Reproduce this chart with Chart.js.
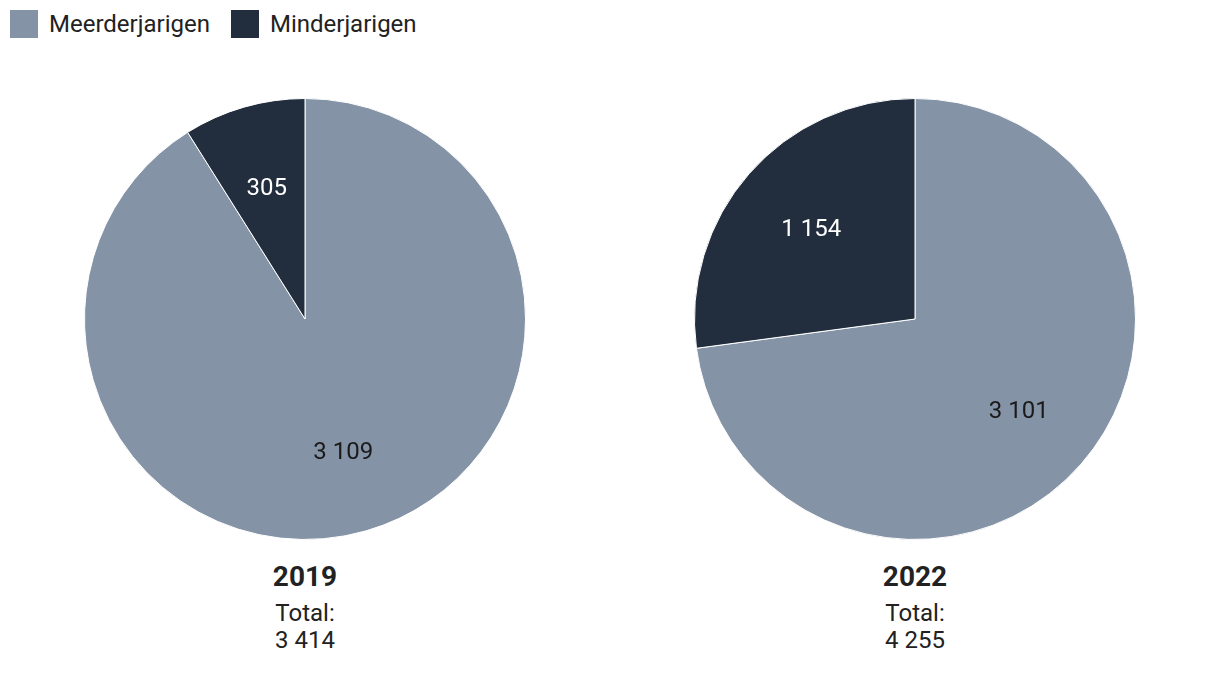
<!DOCTYPE html>
<html>
<head>
<meta charset="utf-8">
<script src="https://cdn.jsdelivr.net/npm/chart.js@4"></script>
<style>
  body { margin: 0; background: #fff; font-family: Roboto, sans-serif; color: #222; }
  #wrap { position: relative; width: 1220px; height: 686px; }
  .legend { position: absolute; top: 10px; left: 10px; display: flex; font-size: 24px; line-height: 28px; }
  .legend span.box { display: inline-block; width: 28px; height: 28px; margin-right: 11px; vertical-align: top; }
  .legend .item { margin-right: 21px; }
  .pie { position: absolute; top: 98px; width: 610px; height: 442px; }
  .cap { position: absolute; top: 558px; width: 610px; text-align: center; }
  .cap .yr { font-weight: bold; font-size: 28px; line-height: 38px; }
  .cap .tot { font-size: 24px; line-height: 27px; margin-top: 4px; }
</style>
</head>
<body>
<div id="wrap">
  <div class="legend" id="legend"></div>
  <div class="pie" style="left:0"><canvas id="c0"></canvas></div>
  <div class="pie" style="left:610px"><canvas id="c1"></canvas></div>
  <div class="cap" id="cap0" style="left:0"></div>
  <div class="cap" id="cap1" style="left:610px"></div>
</div>
<script>
// Data
const categories = ["Meerderjarigen", "Minderjarigen"];
const years = ["2019", "2022"];
const values2019 = [3109, 305];
const values2022 = [3101, 1154];
const colors = ["#8593a6", "#222e3e"];
const labelColors = ["#1a1a1a", "#ffffff"];

function fmt(n) {
    return String(n).replace(/\B(?=(\d{3})+(?!\d))/g, " ");
}

// legend
const legend = document.getElementById("legend");
categories.forEach((c, i) => {
    const d = document.createElement("div");
    d.className = "item";
    d.innerHTML = `<span class="box" style="background:${colors[i]}"></span>${c}`;
    legend.appendChild(d);
});

// slice labels
const sliceLabels = {
    id: "sliceLabels",
    afterDatasetsDraw(chart) {
        const ctx = chart.ctx;
        const meta = chart.getDatasetMeta(0);
        ctx.save();
        ctx.font = "24px Roboto";
        ctx.textAlign = "center";
        ctx.textBaseline = "middle";
        meta.data.forEach((arc, i) => {
            const mid = (arc.startAngle + arc.endAngle) / 2;
            const r = arc.outerRadius * 0.625;
            const x = arc.x + Math.cos(mid) * r;
            const y = arc.y + Math.sin(mid) * r;
            ctx.fillStyle = labelColors[i];
            ctx.fillText(fmt(chart.data.datasets[0].data[i]), x, y + 2);
        });
        ctx.restore();
    }
};

function makePie(id, values) {
    new Chart(document.getElementById(id), {
        type: "pie",
        data: {
            labels: categories,
            datasets: [{
                data: values,
                backgroundColor: colors,
                borderColor: "#ffffff",
                borderWidth: 1
            }]
        },
        options: {
            responsive: true,
            maintainAspectRatio: false,
            animation: false,
            layout: { padding: 0 },
            plugins: {
                legend: { display: false },
                tooltip: { enabled: false }
            }
        },
        plugins: [sliceLabels]
    });
}

makePie("c0", values2019);
makePie("c1", values2022);

[values2019, values2022].forEach((v, i) => {
    const total = v.reduce((a, b) => a + b, 0);
    document.getElementById("cap" + i).innerHTML =
        `<div class="yr">${years[i]}</div><div class="tot">Total:<br>${fmt(total)}</div>`;
});
</script>
</body>
</html>
